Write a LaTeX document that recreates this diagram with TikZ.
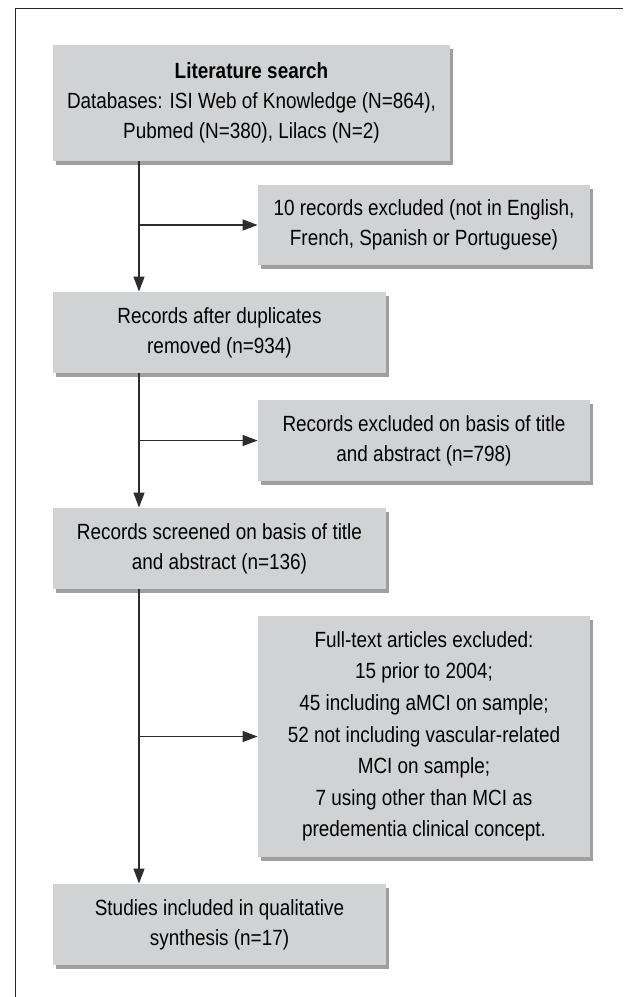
\documentclass[tikz,border=0pt]{standalone}
\usepackage{fontspec}
\setmainfont{Liberation Sans}[FakeStretch=0.86]
\usepackage{tikz}
\usetikzlibrary{shadows,arrows.meta}

\definecolor{boxgray}{RGB}{209,210,212}
\definecolor{inkgray}{RGB}{45,45,45}

\begin{document}
\begin{tikzpicture}
    [x=0.5pt,y=0.5pt,
    box/.style={rectangle,
        fill=boxgray,
        inner sep=0pt,
        align=center,
        text=black,
        font=\fontsize{11}{15}\selectfont,
        drop shadow={shadow xshift=1.6pt,shadow yshift=-1.8pt,fill=black!75}},
    flow/.style={draw=inkgray,line width=0.6pt,-{Triangle[length=7.5pt,width=5.5pt]}}]
    \useasboundingbox (0,0) rectangle (623,-997);

    % Frame
    \draw [line width=0.7pt,black!85] (15.7,-997) -- (15.7,-8.5) -- (623,-8.5);

    % Literature search
    \node [box,
        minimum width=198.5pt,
        minimum height=58pt]
        (search) at (251.5,-103)
        {\textbf{Literature search}\\Databases: ISI Web of Knowledge (N=864),\\Pubmed (N=380), Lilacs (N=2)};

    % Excluded by language
    \node [box,
        minimum width=166pt,
        minimum height=40pt]
        (lang) at (424,-225)
        {10 records excluded (not in English,\\French, Spanish or Portuguese)};

    % After duplicates
    \node [box,
        minimum width=166.5pt,
        minimum height=40.5pt]
        (dup) at (219.5,-332.5)
        {Records after duplicates\\removed (n=934)};

    % Excluded on title and abstract
    \node [box,
        minimum width=166pt,
        minimum height=40.5pt]
        (title) at (424,-440.5)
        {Records excluded on basis of title\\and abstract (n=798)};

    % Screened
    \node [box,
        minimum width=166.5pt,
        minimum height=40.5pt]
        (screen) at (219.5,-548.5)
        {Records screened on basis of title\\and abstract (n=136)};

    % Full-text excluded
    \node [box,
        minimum width=166pt,
        minimum height=120.5pt,
        font=\fontsize{11}{15.8}\selectfont]
        (full) at (424,-736.5)
        {Full-text articles excluded:\\15 prior to 2004;\\45 including aMCI on sample;\\52 not including vascular-related\\MCI on sample;\\7 using other than MCI as\\predementia clinical concept.};

    % Included studies
    \node [box,
        minimum width=166.5pt,
        minimum height=40.5pt]
        (studies) at (219.5,-924.5)
        {Studies included in qualitative\\synthesis (n=17)};

    % Connectors
    \coordinate (trunk) at (139,0);
    \draw [flow] (search.south -| trunk) -- (dup.north -| trunk);
    \draw [flow] (lang.west -| trunk) -- (lang.west);
    \draw [flow] (dup.south -| trunk) -- (screen.north -| trunk);
    \draw [flow] (title.west -| trunk) -- (title.west);
    \draw [flow] (screen.south -| trunk) -- (studies.north -| trunk);
    \draw [flow] (full.west -| trunk) -- (full.west);
\end{tikzpicture}
\end{document}
